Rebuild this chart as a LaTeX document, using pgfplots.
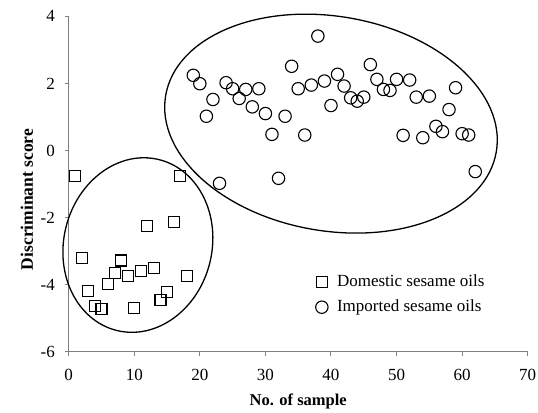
\documentclass[border=0pt]{standalone}
\usepackage{pgfplots}
\pgfplotsset{compat=1.18}
\usepackage{fontspec}
\setmainfont{Liberation Serif}
\pgfplotstableread{
x y
1 -0.75
2 -3.20
3 -4.18
4 -4.64
5 -4.74
6 -3.97
7 -3.65
8 -3.28
9 -3.73
10 -4.70
11 -3.60
12 -2.24
13 -3.50
14 -4.46
15 -4.22
16 -2.14
17 -0.75
18 -3.73
}\domestic
\pgfplotstableread{
x y
19 2.24
20 1.99
21 1.02
22 1.52
23 -0.98
24 2.02
25 1.84
26 1.55
27 1.82
28 1.30
29 1.84
30 1.10
31 0.48
32 -0.83
33 1.02
34 2.51
35 1.84
36 0.46
37 1.95
38 3.41
39 2.07
40 1.34
41 2.27
42 1.92
43 1.57
44 1.47
45 1.59
46 2.56
47 2.12
48 1.82
49 1.79
50 2.12
51 0.45
52 2.10
53 1.59
54 0.38
55 1.62
56 0.72
57 0.56
58 1.22
59 1.87
60 0.50
61 0.46
62 -0.63
}\imported
\begin{document}
\fontsize{17bp}{20bp}\selectfont
\begin{tikzpicture}
\begin{axis}[
  at={(68.7bp,61.3bp)}, anchor=south west,
  scale only axis, width=459bp, height=335.4bp,
  xmin=0, xmax=70, ymin=-6, ymax=4,
  axis x line=bottom, axis y line=left,
  axis line style={-, draw=gray, line width=1.2bp},
  xtick={0,10,...,70}, ytick={-6,-4,...,4},
  tick align=outside, major tick length=4bp,
  tick style={draw=gray, line width=1bp},
  /pgf/number format/assume math mode=true,
  ticklabel style={font=\fontsize{17bp}{20bp}\selectfont},
  xticklabel style={yshift=-8bp},
  yticklabel style={xshift=-4bp},
  xlabel={\textbf{No. of sample}},
  xlabel style={at={(axis description cs:0.5,0)}, anchor=center, yshift=-49.4bp, font=\fontsize{16.5bp}{20bp}\selectfont},
  legend style={draw=none, fill=none, at={(axis description cs:0.53,0.2406)}, anchor=north west,
    font=\fontsize{17bp}{20bp}\selectfont, row sep=6.5bp},
  legend cell align=left,
  legend image code/.code={\draw[#1] plot coordinates {(0bp,0bp)}; \path (-6.5bp,0bp) (13bp,0bp);},
  clip=false,
]
\draw[black, line width=1.3bp, rotate around={-9.65:(axis cs:40,0.8)}] (axis cs:40,0.8) ellipse [x radius=167.7bp, y radius=107.3bp];
\draw[black, line width=1.3bp, rotate around={-13.9:(axis cs:10.55,-2.82)}] (axis cs:10.55,-2.82) ellipse [x radius=74.1bp, y radius=88bp];
\addplot[only marks, mark=square, mark size=5.5bp, mark options={draw=black, line width=1.1bp, fill=none}] table[x=x,y=y] {\domestic};
\addlegendentry{Domestic sesame oils}
\addplot[only marks, mark=o, mark size=6.2bp, mark options={draw=black, line width=1.1bp, fill=none}] table[x=x,y=y] {\imported};
\addlegendentry{Imported sesame oils}
\end{axis}
\node[rotate=90, anchor=center, font=\fontsize{17.5bp}{20bp}\selectfont\bfseries] at (27bp,213.5bp) {Discriminant score};
\pgfresetboundingbox
\path (0,0) rectangle (538bp,413bp);
\end{tikzpicture}
\end{document}
